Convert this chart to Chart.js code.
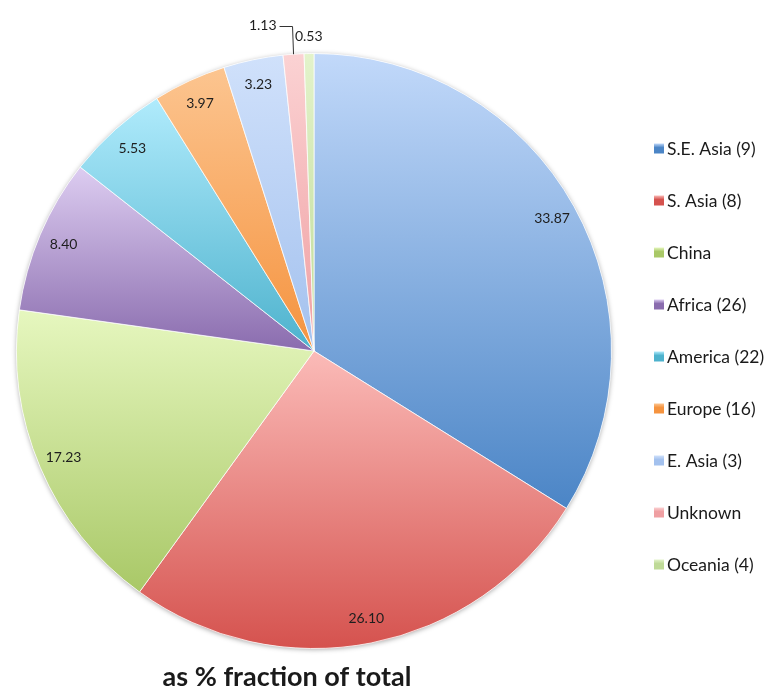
<!DOCTYPE html>
<html>
<head>
<meta charset="utf-8">
<script src="https://cdn.jsdelivr.net/npm/chart.js@4.4.1/dist/chart.umd.min.js"></script>
<style>
  html, body { margin: 0; padding: 0; background: #fff; }
  #wrap { width: 769px; height: 692px; position: relative; }
</style>
</head>
<body>
<div id="wrap"><canvas id="pie"></canvas></div>
<script>
const categories = ["S.E. Asia (9)", "S. Asia (8)", "China", "Africa (26)", "America (22)", "Europe (16)", "E. Asia (3)", "Unknown", "Oceania (4)"];
const shares = [33.87, 26.10, 17.23, 8.40, 5.53, 3.97, 3.23, 1.13, 0.53];
const chartTitle = "as % fraction of total";

// top (light) and bottom (dark) colour of every slice
const lightColors = ["#c2d9fa", "#fbbbb8", "#e6f7bf", "#ddcdf1", "#b0ebfc", "#fcc590", "#d0e1fb", "#fbd2d3", "#e3f3cb"];
const darkColors = ["#4b85c6", "#d5524e", "#a9c867", "#8a6cae", "#4db2cd", "#f5933f", "#a3c1ee", "#ef9fa2", "#bfda97"];

// vertical gradient fitted to the slice's own extent
function sliceFill(context) {
  const i = context.dataIndex;
  const chart = context.chart;
  const area = chart.chartArea;
  if (i === undefined || !area) return darkColors[i || 0];
  const cx = (area.left + area.right) / 2;
  const cy = (area.top + area.bottom) / 2;
  const r = Math.min(area.right - area.left, area.bottom - area.top) / 2;
  const total = shares.reduce((a, b) => a + b, 0);
  let before = 0;
  for (let k = 0; k < i; k++) before += shares[k];
  const a0 = before / total * Math.PI * 2 - Math.PI / 2;
  const a1 = (before + shares[i]) / total * Math.PI * 2 - Math.PI / 2;
  let ymin = cy, ymax = cy;
  for (let s = 0; s <= 40; s++) {
    const y = cy + Math.sin(a0 + (a1 - a0) * s / 40) * r;
    ymin = Math.min(ymin, y);
    ymax = Math.max(ymax, y);
  }
  const g = chart.ctx.createLinearGradient(0, ymin, 0, ymax);
  g.addColorStop(0, lightColors[i]);
  g.addColorStop(1, darkColors[i]);
  return g;
}

const pieShadow = {
  id: "pieShadow",
  beforeDatasetsDraw(chart) {
    const arc = chart.getDatasetMeta(0).data[0];
    if (!arc) return;
    const p = arc.getProps(["x", "y", "outerRadius"], true);
    const ctx = chart.ctx;
    ctx.save();
    ctx.shadowColor = "rgba(0,0,0,0.35)";
    ctx.shadowBlur = 5;
    ctx.shadowOffsetY = 1;
    ctx.fillStyle = "#fff";
    ctx.beginPath();
    ctx.arc(p.x, p.y, p.outerRadius, 0, Math.PI * 2);
    ctx.fill();
    ctx.restore();
  }
};

const valueLabels = {
  id: "valueLabels",
  afterDatasetsDraw(chart) {
    const ctx = chart.ctx;
    const arcs = chart.getDatasetMeta(0).data;
    ctx.save();
    ctx.font = "14px Lato";
    ctx.fillStyle = "#1e1e1e";
    ctx.textBaseline = "middle";
    arcs.forEach((arc, i) => {
      const p = arc.getProps(["x", "y", "startAngle", "endAngle", "outerRadius"], true);
      const mid = (p.startAngle + p.endAngle) / 2;
      const R = p.outerRadius;
      const txt = shares[i].toFixed(2);
      const cos = Math.cos(mid), sin = Math.sin(mid);
      if (shares[i] >= 2) {
        ctx.textAlign = "center";
        ctx.fillText(txt, p.x + cos * R * 0.915, p.y + sin * R * 0.915);
      } else if (i + 1 < shares.length && shares[i + 1] < 2) {
        // leader line for the crowded slice
        const ex = p.x + cos * R, ey = p.y + sin * R;
        const ky = p.y - R - 27;
        ctx.strokeStyle = "#333";
        ctx.lineWidth = 1;
        ctx.beginPath();
        ctx.moveTo(ex, ey);
        ctx.lineTo(ex - 1, ky);
        ctx.lineTo(ex - 14, ky);
        ctx.stroke();
        ctx.textAlign = "right";
        ctx.fillText(txt, ex - 17, ky - 1);
      } else {
        ctx.textAlign = "center";
        ctx.fillText(txt, p.x + cos * (R + 17), p.y + sin * (R + 17));
      }
    });
    ctx.restore();
  }
};

const sideLegend = {
  id: "sideLegend",
  afterDraw(chart) {
    const ctx = chart.ctx;
    const area = chart.chartArea;
    const x0 = area.right + 42;
    const mid = (area.top + area.bottom) / 2 + 5;
    const step = 52;
    ctx.save();
    ctx.font = "17.5px Lato";
    ctx.textBaseline = "middle";
    ctx.textAlign = "left";
    categories.forEach((c, i) => {
      const y = mid + (i - (categories.length - 1) / 2) * step;
      const g = ctx.createLinearGradient(0, y - 4.5, 0, y + 4.5);
      g.addColorStop(0, lightColors[i]);
      g.addColorStop(0.45, darkColors[i]);
      g.addColorStop(1, darkColors[i]);
      ctx.fillStyle = g;
      ctx.fillRect(x0, y - 4.5, 10, 10);
      ctx.fillStyle = "#1a1a1a";
      ctx.fillText(c, x0 + 13, y + 1);
    });
    // chart title under the pie
    ctx.font = "bold 27px Lato";
    ctx.textAlign = "center";
    ctx.textBaseline = "alphabetic";
    ctx.fillText(chartTitle, 287, 686);
    ctx.restore();
  }
};

new Chart(document.getElementById("pie"), {
  type: "pie",
  data: {
    labels: categories,
    datasets: [{
      data: shares,
      backgroundColor: sliceFill,
      borderColor: "rgba(255,255,255,0.75)",
      borderWidth: 1,
      hoverOffset: 0
    }]
  },
  options: {
    responsive: true,
    maintainAspectRatio: false,
    animation: false,
    layout: {
      padding: { left: 16, right: 157, top: 53, bottom: 43 }
    },
    plugins: {
      legend: { display: false },
      title: { display: false },
      tooltip: { enabled: false }
    }
  },
  plugins: [pieShadow, valueLabels, sideLegend]
});
</script>
</body>
</html>
